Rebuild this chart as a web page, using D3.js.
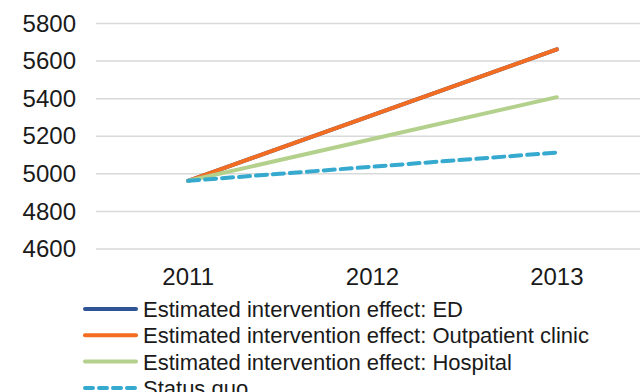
<!DOCTYPE html>
<html>
<head>
<meta charset="utf-8">
<script src="https://cdn.jsdelivr.net/npm/d3@7"></script>
<style>
  html, body { margin: 0; padding: 0; background: #fff; }
  svg { display: block; font-family: "Liberation Sans", Arial, sans-serif; }
</style>
</head>
<body>
<svg id="chart" width="640" height="392"></svg>
<script>
// Years on the category axis
const years = ["2011", "2012", "2013"];

// Projected counts per scenario
const edValues = [4963, 5312, 5662];
const outpatientValues = [4963, 5312, 5662];
const hospitalValues = [4963, 5185, 5408];
const statusQuoValues = [4963, 5038, 5113];

// Value-axis ticks
const yTicks = [4600, 4800, 5000, 5200, 5400, 5600, 5800];

const seriesNames = [
  "Estimated intervention effect: ED",
  "Estimated intervention effect: Outpatient clinic",
  "Estimated intervention effect: Hospital",
  "Status quo"
];

const series = [
  { name: seriesNames[0], values: edValues, color: "#2f5496", dash: null },
  { name: seriesNames[1], values: outpatientValues, color: "#f26d21", dash: null },
  { name: seriesNames[2], values: hospitalValues, color: "#b3d18c", dash: null },
  { name: seriesNames[3], values: statusQuoValues, color: "#36a9cf", dash: "11,6" }
];

const svg = d3.select("#chart");

const plotLeft = 96, plotRight = 649;
const x = d3.scaleBand().domain(years).range([plotLeft, plotRight]);
const y = d3.scaleLinear().domain([4600, 5800]).range([249, 23.5]);

// Horizontal gridlines
svg.append("g")
  .selectAll("line")
  .data(yTicks)
  .join("line")
  .attr("x1", plotLeft)
  .attr("x2", 640)
  .attr("y1", d => y(d))
  .attr("y2", d => y(d))
  .attr("stroke", "#d9d9d9")
  .attr("stroke-width", 1.5);

// Value axis labels
const yAxis = d3.axisLeft(y).tickValues(yTicks).tickSize(0).tickPadding(0).tickFormat(d3.format("d"));
const yg = svg.append("g").attr("transform", "translate(76,0)").call(yAxis);
yg.select(".domain").remove();
yg.selectAll("text")
  .attr("font-size", 24)
  .attr("fill", "#1a1a1a")
  .attr("font-family", "'Liberation Sans', Arial, sans-serif");

// Category axis labels
const xAxis = d3.axisBottom(x).tickSize(0).tickPadding(0);
const xg = svg.append("g").attr("transform", "translate(0,268)").call(xAxis);
xg.select(".domain").remove();
xg.selectAll("text")
  .attr("font-size", 24)
  .attr("fill", "#1a1a1a")
  .attr("font-family", "'Liberation Sans', Arial, sans-serif");

// Series lines
const line = d3.line()
  .x((d, i) => x(years[i]) + x.bandwidth() / 2)
  .y(d => y(d));

svg.append("g")
  .selectAll("path")
  .data(series)
  .join("path")
  .attr("d", d => line(d.values))
  .attr("fill", "none")
  .attr("stroke", d => d.color)
  .attr("stroke-width", 4)
  .attr("stroke-linecap", "round")
  .attr("stroke-dasharray", d => d.dash);

// Legend
const legend = svg.append("g").attr("transform", "translate(84,309)");
const rows = legend.selectAll("g")
  .data(series)
  .join("g")
  .attr("transform", (d, i) => `translate(0,${i * 26.3})`);
rows.append("line")
  .attr("x1", 1).attr("x2", 52)
  .attr("y1", 0).attr("y2", 0)
  .attr("stroke", d => d.color)
  .attr("stroke-width", 4)
  .attr("stroke-linecap", "round")
  .attr("stroke-dasharray", d => d.dash ? "8,6" : null);
rows.append("text")
  .attr("x", 59)
  .attr("y", 8)
  .attr("font-size", 22)
  .attr("fill", "#1a1a1a")
  .text(d => d.name);
</script>
</body>
</html>
